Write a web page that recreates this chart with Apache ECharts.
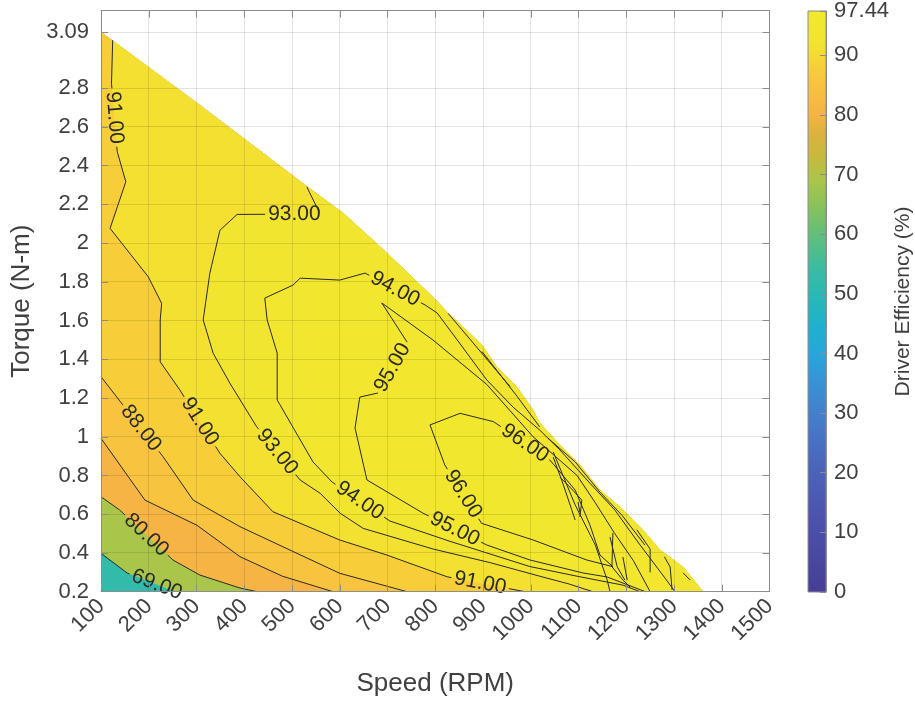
<!DOCTYPE html>
<html>
<head>
<meta charset="utf-8">
<script src="https://cdn.jsdelivr.net/npm/echarts@6/dist/echarts.min.js"></script>
<style>
  html, body { margin: 0; padding: 0; background: #ffffff; }
  #chart { width: 915px; height: 702px; }
</style>
</head>
<body>
<div id="chart"></div>
<script>
// ---- axis ticks ----
const speedTicks = [100, 200, 300, 400, 500, 600, 700, 800, 900, 1000, 1100, 1200, 1300, 1400, 1500];
const torqueTicks = [0.2, 0.4, 0.6, 0.8, 1, 1.2, 1.4, 1.6, 1.8, 2, 2.2, 2.4, 2.6, 2.8, 3.09];
const torqueAxisMax = 3.2;
const efficiencyTicks = [0, 10, 20, 30, 40, 50, 60, 70, 80, 90, 97.44];
const efficiencyMax = 97.44;
const efficiencyMin = 52;   // lowest efficiency, low speed / low torque corner

// ---- operating envelope: peak torque [speed, torque] ----
const peakTorque = [
  [100, 3.09], [307, 2.713], [531, 2.294], [607, 2.155], [699, 1.949], [795, 1.722],
  [827, 1.639], [898, 1.474], [929, 1.36], [971, 1.257], [1005, 1.138], [1019, 1.071],
  [1061, 0.957], [1103, 0.854], [1145, 0.725], [1187, 0.637], [1235, 0.518],
  [1271, 0.415], [1319, 0.327], [1361, 0.2]
];

// ---- iso-efficiency lines [speed, torque] ----
const iso69 = [[100, 0.398], [155, 0.296], [255, 0.2]];
const iso80 = [[100, 0.69], [139, 0.622], [251, 0.363], [307, 0.286], [391, 0.219], [427, 0.2]];
const iso85 = [[100, 0.992], [192, 0.673], [301, 0.543], [391, 0.381], [480, 0.28], [586, 0.2]];
const iso88 = [[100, 1.31], [230, 0.897], [293, 0.673], [391, 0.536], [481, 0.432], [600, 0.295], [741, 0.2]];
const iso91 = [
  [124.5, 3.048], [122, 2.825], [134, 2.472], [152, 2.317], [119, 2.076], [199, 1.826],
  [227, 1.689], [224, 1.603], [224, 1.387], [265, 1.242], [349, 0.915], [391, 0.794],
  [460, 0.613], [600, 0.467], [699, 0.389], [825, 0.277], [988, 0.2]
];
const iso93 = [
  [531, 2.29], [559, 2.15], [385, 2.148], [349, 2.066], [328, 1.845], [314, 1.603],
  [335, 1.431], [370, 1.276], [426, 1.052], [517, 0.777], [559, 0.708], [601, 0.605],
  [649, 0.527], [796, 0.42], [915, 0.35], [1019, 0.28], [1080, 0.24], [1130, 0.2]
];
const iso94 = [
  [1229, 0.2], [1193, 0.234], [1097, 0.28], [998, 0.33], [831, 0.46], [705, 0.565],
  [584, 0.766], [544, 0.87], [469, 1.19], [469, 1.432], [448, 1.603], [443, 1.716],
  [502, 1.783], [517, 1.819], [600, 1.809], [653, 1.845], [779, 1.68], [804, 1.639],
  [846, 1.5], [908, 1.293], [963, 1.153], [1019, 1.034], [1061, 0.932], [1124, 0.76],
  [1176, 0.622], [1229, 0.441], [1281, 0.271], [1302, 0.2]
];
const iso95 = [
  [1240, 0.2], [1160, 0.276], [1109, 0.297], [998, 0.364], [908, 0.441], [774, 0.606],
  [657, 0.777], [632, 1.045], [642, 1.205], [680, 1.226], [741, 1.489], [688, 1.691],
  [795, 1.5], [908, 1.27], [1005, 1.0], [1097, 0.8], [1135, 0.66], [1176, 0.5],
  [1215, 0.36], [1250, 0.2]
];
const iso96 = [
  [789, 1.061], [852, 1.121], [922, 1.078], [1040, 0.88], [1093, 0.725], [1124, 0.544],
  [1145, 0.389], [1172, 0.329], [1117, 0.364], [1005, 0.467], [897, 0.553], [820, 0.854],
  [789, 1.061]
];
// small unlabelled contour pieces close to the torque limit
const isoFragments = [
  [[1047, 0.922], [1093, 0.648], [1135, 0.442], [1160, 0.261], [1166, 0.2]],
  [[1047, 0.895], [1067, 0.761], [1093, 0.57]],
  [[1061, 0.792], [1082, 0.74], [1107, 0.673], [1103, 0.586]],
  [[1099, 0.663], [1103, 0.611]],
  [[1172, 0.503], [1170, 0.329], [1193, 0.26], [1208, 0.224]],
  [[1166, 0.482], [1181, 0.329], [1197, 0.26]],
  [[1193, 0.379], [1202, 0.26]],
  [[1222, 0.52], [1250, 0.42], [1250, 0.3]],
  [[1280, 0.38], [1292, 0.327], [1296, 0.209]],
  [[1319, 0.297], [1334, 0.26]],
  [[1036, 0.993], [1093, 0.87], [1145, 0.714], [1191, 0.595], [1239, 0.441]],
  [[827, 1.637], [957, 1.258]],
  [[898, 1.44], [971, 1.21], [1019, 1.05]]
];

// ---- inline contour labels [speed, torque, level] ----
const contourLabels = [
  [217, 0.237, 69], [195, 0.4925, 80], [184, 1.045, 88],
  [128, 2.648, 91], [307, 1.078, 91], [894, 0.244, 91],
  [505, 2.149, 93], [469, 0.922, 93],
  [716, 1.763, 94], [642, 0.67, 94],
  [710.5, 1.357, 95], [841, 0.524, 95],
  [988, 0.967, 96], [858, 0.704, 96]
];

// ---------------------------------------------------------------
const FONT = '"Liberation Sans", Arial, Helvetica, sans-serif';
const TEXT = '#404040';
const FRAME = '#8c8c8c';

// parula-like colour map (efficiency % -> colour)
const cmapStops = [
  [0, '#463E97'], [5, '#4946A0'], [10, '#4B4FA9'], [15, '#4C58B1'], [20, '#4B62B9'],
  [25, '#4870C2'], [30, '#4480CB'], [35, '#3892D4'], [40, '#27A6DB'], [45, '#1FB2CC'],
  [50, '#29B9B5'], [55, '#3FBC9C'], [60, '#62BF7A'], [65, '#8BC25A'], [69, '#AAC64A'],
  [73, '#C7B93C'], [77, '#DDB23E'], [80, '#F5B444'], [82, '#F6B943'], [85, '#F8C33E'],
  [88, '#F7CE3A'], [91, '#F3E031'], [93, '#F2E52F'], [97.44, '#F1E92D']
];
function hexRgb(h) { return [1, 3, 5].map(i => parseInt(h.substr(i, 2), 16)); }
function cmap(v) {
  if (v <= cmapStops[0][0]) return cmapStops[0][1];
  for (let i = 0; i < cmapStops.length - 1; i++) {
    const [a, ca] = cmapStops[i], [b, cb] = cmapStops[i + 1];
    if (v <= b) {
      const t = (v - a) / (b - a), A = hexRgb(ca), B = hexRgb(cb);
      return 'rgb(' + A.map((x, k) => Math.round(x + t * (B[k] - x))).join(',') + ')';
    }
  }
  return cmapStops[cmapStops.length - 1][1];
}

const isoLines = [
  { level: 69, pts: iso69 }, { level: 80, pts: iso80 }, { level: 85, pts: iso85 },
  { level: 88, pts: iso88 }, { level: 91, pts: iso91 }, { level: 93, pts: iso93 },
  { level: 94, pts: iso94 }, { level: 95, pts: iso95 }, { level: 96, pts: iso96 }
].concat(isoFragments.map(p => ({ level: null, pts: p })));

// filled bands: each region is the part of the envelope above a level
const envelopeDown = peakTorque.slice().reverse();
function fromLeftEdge(line) { return line.concat(envelopeDown); }
function fromTopEdge(line) { const s0 = line[0][0]; return line.concat(envelopeDown.filter(p => p[0] > s0)); }
const fills = [
  { color: cmap(efficiencyMin), pts: peakTorque.concat([[100, 0.2]]) },
  { color: cmap(69), pts: fromLeftEdge(iso69) },
  { color: cmap(80), pts: fromLeftEdge(iso80) },
  { color: cmap(85), pts: fromLeftEdge(iso85) },
  { color: cmap(88), pts: fromLeftEdge(iso88) },
  { color: cmap(91), pts: fromTopEdge(iso91) },
  { color: cmap(93), pts: fromTopEdge(iso93) },
  { color: cmap(94), pts: iso94 },
  { color: cmap(95), pts: iso95 },
  { color: cmap(96), pts: iso96 }
];

// label text geometry
const LABEL_FONT_SIZE = 21;
const measureCtx = document.createElement('canvas').getContext('2d');
measureCtx.font = LABEL_FONT_SIZE + 'px "Liberation Sans", Arial, sans-serif';
function labelHalfGap(level) { return measureCtx.measureText(level.toFixed(2)).width / 2 + 3; }

function projectOnto(P, q) {
  let best = null, acc = 0;
  for (let i = 0; i < P.length - 1; i++) {
    const dx = P[i + 1][0] - P[i][0], dy = P[i + 1][1] - P[i][1];
    const L2 = dx * dx + dy * dy, L = Math.sqrt(L2);
    let t = L2 > 0 ? ((q[0] - P[i][0]) * dx + (q[1] - P[i][1]) * dy) / L2 : 0;
    t = Math.max(0, Math.min(1, t));
    const pt = [P[i][0] + t * dx, P[i][1] + t * dy];
    const d = Math.hypot(pt[0] - q[0], pt[1] - q[1]);
    if (!best || d < best.d) best = { d, s: acc + t * L, pt, dx, dy };
    acc += L;
  }
  let a = Math.atan2(-best.dy, best.dx);
  if (a > Math.PI / 2) a -= Math.PI;
  if (a <= -Math.PI / 2) a += Math.PI;
  best.angle = a;
  return best;
}

function cutPolyline(P, gaps) {
  const cum = [0];
  for (let i = 1; i < P.length; i++) cum.push(cum[i - 1] + Math.hypot(P[i][0] - P[i - 1][0], P[i][1] - P[i - 1][1]));
  const total = cum[cum.length - 1];
  gaps.sort((a, b) => a[0] - b[0]);
  const keep = []; let cur = 0;
  for (const [a, b] of gaps) { if (a > cur) keep.push([cur, a]); cur = Math.max(cur, b); }
  if (cur < total) keep.push([cur, total]);
  const at = s => {
    let i = 0;
    while (i < cum.length - 2 && cum[i + 1] < s) i++;
    const L = cum[i + 1] - cum[i], t = L > 0 ? (s - cum[i]) / L : 0;
    return [P[i][0] + t * (P[i + 1][0] - P[i][0]), P[i][1] + t * (P[i + 1][1] - P[i][1])];
  };
  return keep.map(([a, b]) => {
    const out = [at(a)];
    for (let i = 0; i < P.length; i++) if (cum[i] > a && cum[i] < b) out.push(P[i]);
    out.push(at(b));
    return out;
  });
}

const crisp = v => Math.round(v - 0.5) + 0.5;

const chart = echarts.init(document.getElementById('chart'), null, { renderer: 'canvas' });

const tickStyle = { color: FRAME, width: 1 };
const axisLabelStyle = { fontSize: 22, color: TEXT, fontFamily: FONT };

const option = {
  animation: false,
  backgroundColor: '#ffffff',
  textStyle: { fontFamily: FONT },
  grid: [
    { left: 101, top: 10.7, width: 668.5, height: 581 },
    { left: 808, top: 11, width: 38, height: 581 }
  ],
  xAxis: [
    {
      gridIndex: 0, type: 'value', min: 100, max: 1500, interval: 100, position: 'bottom', z: 10,
      axisLine: { show: true, onZero: false, lineStyle: tickStyle },
      axisTick: { show: true, inside: true, length: 7, lineStyle: tickStyle },
      axisLabel: Object.assign({ rotate: 45, margin: 11, formatter: v => String(v) }, axisLabelStyle),
      splitLine: { show: false },
      name: 'Speed (RPM)', nameLocation: 'middle', nameGap: 79,
      nameTextStyle: { fontSize: 26, color: TEXT, fontFamily: FONT }
    },
    {
      gridIndex: 0, type: 'value', min: 100, max: 1500, interval: 100, position: 'top', z: 10,
      axisLine: { show: true, onZero: false, lineStyle: tickStyle },
      axisTick: { show: true, inside: true, length: 7, lineStyle: tickStyle },
      axisLabel: { show: false }, splitLine: { show: false }
    },
    { gridIndex: 1, type: 'value', min: 0, max: 1, show: false }
  ],
  yAxis: [
    {
      gridIndex: 0, type: 'value', min: 0.2, max: torqueAxisMax, position: 'left', z: 10,
      axisLine: { show: true, onZero: false, lineStyle: tickStyle },
      axisTick: { show: true, inside: true, length: 7, lineStyle: tickStyle, customValues: torqueTicks },
      axisLabel: Object.assign({ margin: 12, customValues: torqueTicks, formatter: v => String(v) }, axisLabelStyle),
      splitLine: { show: false },
      name: 'Torque (N-m)', nameLocation: 'middle', nameRotate: 90, nameGap: 58,
      nameTextStyle: { fontSize: 26, color: TEXT, fontFamily: FONT }
    },
    {
      gridIndex: 0, type: 'value', min: 0.2, max: torqueAxisMax, position: 'right', z: 10,
      axisLine: { show: true, onZero: false, lineStyle: tickStyle },
      axisTick: { show: true, inside: true, length: 7, lineStyle: tickStyle, customValues: torqueTicks },
      axisLabel: { show: false }, splitLine: { show: false }
    },
    {
      gridIndex: 1, type: 'value', min: 0, max: efficiencyMax, position: 'right', z: 10,
      axisLine: { show: true, onZero: false, lineStyle: tickStyle },
      axisTick: { show: true, inside: true, length: 6, lineStyle: tickStyle, customValues: efficiencyTicks },
      axisLabel: Object.assign({ margin: 8, customValues: efficiencyTicks, formatter: v => String(v) }, axisLabelStyle),
      splitLine: { show: false },
      name: 'Driver Efficiency (%)', nameLocation: 'middle', nameRotate: 90, nameGap: 43,
      nameTextStyle: { fontSize: 21, color: TEXT, fontFamily: FONT }
    }
  ],
  series: [
    // filled efficiency bands
    {
      type: 'custom', name: 'bands', xAxisIndex: 0, yAxisIndex: 0, z: 1, silent: true,
      data: fills.map(f => f.pts[0]),
      renderItem: (params, api) => {
        const f = fills[params.dataIndex];
        return { type: 'polygon', shape: { points: f.pts.map(p => api.coord(p)) }, style: { fill: f.color, stroke: null } };
      }
    },
    // grid lines
    {
      type: 'custom', name: 'grid', xAxisIndex: 0, yAxisIndex: 0, z: 2, silent: true,
      data: speedTicks.map(v => [v, 0.2]).concat(torqueTicks.map(v => [100, v])),
      renderItem: (params, api) => {
        const i = params.dataIndex;
        let a, b;
        if (i < speedTicks.length) {
          a = api.coord([speedTicks[i], 0.2]); b = api.coord([speedTicks[i], torqueAxisMax]);
          a[0] = b[0] = crisp(a[0]);
        } else {
          const v = torqueTicks[i - speedTicks.length];
          a = api.coord([100, v]); b = api.coord([1500, v]);
          a[1] = b[1] = crisp(a[1]);
        }
        return { type: 'line', shape: { x1: a[0], y1: a[1], x2: b[0], y2: b[1] }, style: { stroke: 'rgba(0,0,0,0.11)', lineWidth: 1 } };
      }
    },
    // contour lines, broken where a label sits
    {
      type: 'custom', name: 'contours', xAxisIndex: 0, yAxisIndex: 0, z: 3, silent: true,
      data: isoLines.map(l => l.pts[0]),
      renderItem: (params, api) => {
        const line = isoLines[params.dataIndex];
        const P = line.pts.map(p => api.coord(p));
        const gaps = [];
        if (line.level !== null) {
          contourLabels.filter(l => l[2] === line.level).forEach(l => {
            const pr = projectOnto(P, api.coord([l[0], l[1]]));
            const h = labelHalfGap(l[2]);
            gaps.push([pr.s - h, pr.s + h]);
          });
        }
        const pieces = cutPolyline(P, gaps);
        return {
          type: 'group',
          children: pieces.map(pts => ({ type: 'polyline', shape: { points: pts }, style: { stroke: '#2a2a2a', lineWidth: 1, fill: null } }))
        };
      }
    },
    // contour labels
    {
      type: 'custom', name: 'labels', xAxisIndex: 0, yAxisIndex: 0, z: 4, silent: true,
      data: contourLabels.map(l => [l[0], l[1]]),
      renderItem: (params, api) => {
        const [s, t, level] = contourLabels[params.dataIndex];
        const line = isoLines.find(l => l.level === level);
        const P = line.pts.map(p => api.coord(p));
        const pr = projectOnto(P, api.coord([s, t]));
        return {
          type: 'text', x: pr.pt[0], y: pr.pt[1], rotation: pr.angle,
          style: {
            text: level.toFixed(2), fill: '#2a2a2a', align: 'center', verticalAlign: 'middle',
            fontSize: LABEL_FONT_SIZE, fontFamily: FONT
          }
        };
      }
    },
    // colour bar
    {
      type: 'custom', name: 'colorbar', xAxisIndex: 2, yAxisIndex: 2, z: 1, silent: true,
      data: [[0, 0]],
      renderItem: (params, api) => {
        const top = api.coord([0, efficiencyMax]), bot = api.coord([1, 0]);
        const stops = cmapStops.map(([v, c]) => ({ offset: 1 - v / efficiencyMax, color: c }))
          .sort((a, b) => a.offset - b.offset);
        return {
          type: 'rect',
          shape: { x: top[0], y: top[1], width: bot[0] - top[0], height: bot[1] - top[1] },
          style: { fill: new echarts.graphic.LinearGradient(0, 0, 0, 1, stops), stroke: FRAME, lineWidth: 1 }
        };
      }
    }
  ]
};

chart.setOption(option);
</script>
</body>
</html>
